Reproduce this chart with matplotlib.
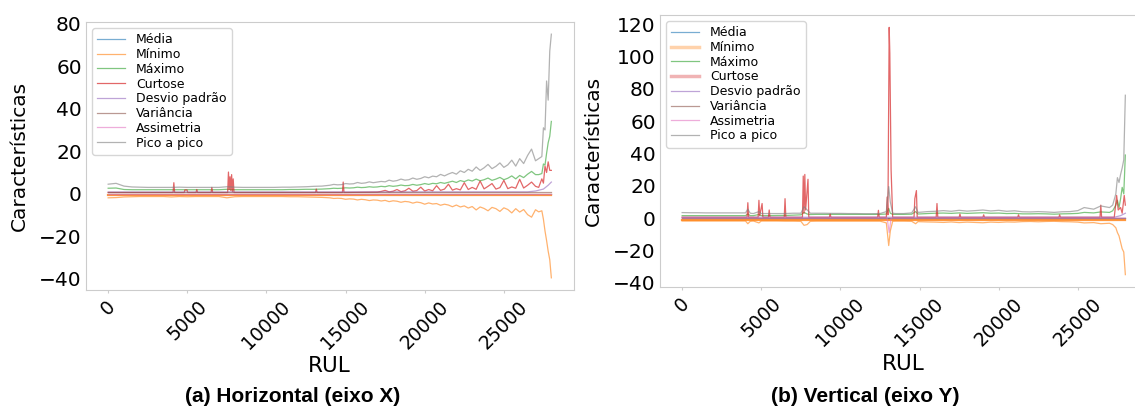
import matplotlib
matplotlib.use('Agg')
import matplotlib.pyplot as plt

# legend labels (same order as the colour cycle C0..C7)
labels = ['Média', 'Mínimo', 'Máximo', 'Curtose', 'Desvio padrão',
          'Variância', 'Assimetria', 'Pico a pico']

# ---------------- (a) Horizontal (eixo X) ----------------
rul_h = [0, 500, 1000, 1500, 2000, 2500, 3000, 3500, 4000, 4500,
         5000, 5500, 6000, 6500, 7000, 7500, 8000, 8500, 9000, 9500,
         10000, 10500, 11000, 11500, 12000, 12500, 13000, 13500,
         14000, 14250, 14500, 14750, 15000, 15250, 15500, 15750,
         16000, 16250, 16500, 16750, 17000, 17250, 17500, 17750,
         18000, 18250, 18500, 18750, 19000, 19250, 19500, 19750,
         20000, 20250, 20500, 20750, 21000, 21250, 21500, 21750,
         22000, 22250, 22500, 22750, 23000, 23250, 23500, 23750,
         24000, 24250, 24500, 24750, 25000, 25250, 25500, 25750,
         26000, 26250, 26500, 26750, 27000,
         27200, 27400, 27500, 27600, 27700, 27800, 27900, 28000]
pico_h = [4.5, 4.9, 3.6, 3.2, 3.1, 3.0, 3.0, 3.0, 3.0, 3.1,
          3.0, 3.0, 3.0, 3.0, 3.0, 3.3, 3.1, 3.0, 3.0, 3.0,
          3.0, 3.0, 3.1, 3.1, 3.2, 3.3, 3.5, 3.6,
          4.0, 4.4, 4.2, 4.3, 4.8, 4.6, 4.7, 5.3,
          4.9, 5.1, 5.6, 5.2, 5.5, 5.8, 5.6, 6.4,
          5.9, 6.2, 6.9, 6.4, 6.6, 7.4, 6.8, 7.2,
          8.0, 7.5, 8.3, 8.0, 9.1, 8.4, 9.3, 10.0,
          9.2, 10.8, 10.0, 11.5, 10.6, 12.6, 11.0, 12.2,
          13.8, 11.8, 12.9, 14.5, 12.4, 13.6, 15.8, 13.0,
          16.5, 14.2, 18.0, 21.0, 15.5,
          16.5, 17.5, 31.0, 30.0, 53.0, 44.0, 67.0, 75.0]
maximo_h = [2.6, 2.7, 2.0, 1.9, 1.9, 1.9, 1.9, 1.9, 1.9, 1.9,
            1.9, 1.9, 1.9, 1.9, 1.9, 2.1, 1.9, 1.9, 1.9, 1.9,
            1.9, 1.9, 1.9, 2.0, 2.0, 2.1, 2.1, 2.2,
            2.4, 2.6, 2.5, 2.6, 2.8, 2.7, 2.8, 3.1,
            2.9, 3.0, 3.3, 3.1, 3.2, 3.5, 3.3, 3.8,
            3.5, 3.7, 4.1, 3.8, 3.9, 4.4, 4.0, 4.3,
            4.8, 4.4, 4.9, 4.7, 5.3, 4.9, 5.4, 5.9,
            5.3, 6.2, 5.7, 6.5, 6.0, 6.9, 6.1, 6.6,
            7.4, 6.3, 6.9, 7.7, 6.6, 7.3, 8.4, 7.0,
            8.6, 7.6, 9.2, 10.5, 9.0,
            9.0, 9.5, 14.0, 13.5, 19.0, 24.0, 27.0, 34.0]
minimo_h = [-1.9, -1.8, -1.5, -1.4, -1.3, -1.3, -1.3, -1.3, -1.5, -1.3,
            -1.4, -1.3, -1.3, -1.3, -1.3, -1.9, -1.4, -1.3, -1.3, -1.3,
            -1.3, -1.3, -1.3, -1.4, -1.4, -1.5, -1.6, -1.7,
            -1.9, -2.2, -2.1, -2.2, -2.6, -2.4, -2.5, -2.9,
            -2.6, -2.8, -3.2, -2.9, -3.0, -3.4, -3.1, -3.7,
            -3.3, -3.5, -4.0, -3.6, -3.8, -4.4, -3.9, -4.2,
            -4.9, -4.3, -4.8, -4.6, -5.4, -4.9, -5.3, -6.1,
            -5.3, -6.2, -5.7, -6.7, -6.0, -7.6, -6.2, -6.9,
            -8.0, -6.4, -7.0, -8.3, -6.6, -7.4, -9.0, -7.0,
            -8.6, -7.4, -9.8, -11.0, -7.5,
            -8.5, -8.0, -12.0, -17.5, -22.0, -27.0, -31.0, -39.5]
rul_curt_h = [0, 4100, 4150, 4200, 4800, 4850, 4980, 5030, 5550, 5600, 5650,
              6500, 6550, 6600, 7550, 7600, 7650, 7700, 7750, 7800, 7850, 7900,
              7950, 13100, 13150, 13200, 14800, 14850, 14900,
              17000, 17250, 17500, 17750, 18000, 18250, 18500, 18750,
              19000, 19250, 19500, 19750, 20000, 20250, 20500, 20750,
              21000, 21250, 21500, 21750, 22000, 22250, 22500, 22750,
              23000, 23250, 23500, 23750, 24000, 24250, 24500, 24750,
              25000, 25250, 25500, 25750, 26000, 26250, 26500, 26750, 27000,
              27200, 27400, 27500, 27600, 27700, 27800, 27900, 28000]
curt_h = [0.6, 0.6, 5.2, 0.6, 0.6, 1.8, 1.8, 0.6, 0.6, 2.0, 0.6,
          0.6, 3.0, 0.6, 0.6, 10.2, 2.0, 8.0, 1.5, 9.0, 1.0, 7.0,
          0.6, 0.6, 2.2, 0.6, 0.6, 5.5, 0.6,
          0.8, 1.1, 1.6, 0.9, 1.2, 2.0, 1.0, 1.4,
          2.6, 1.2, 1.5, 3.1, 1.3, 2.0, 1.4, 3.8,
          1.6, 2.2, 4.5, 1.7, 2.4, 1.8, 5.2, 2.0,
          3.0, 2.1, 6.0, 2.3, 3.5, 4.8, 2.2, 2.9,
          6.3, 2.4, 3.2, 2.6, 6.8, 2.7, 4.0, 5.5, 3.5,
          3.0, 7.0, 5.0, 13.0, 10.0, 15.0, 11.0, 11.0]
rul_media_h = [0, 28000]
media_h = [0.1, 0.1]
rul_minbase_h = [0, 28000]
minbase_h = [-0.6, -0.6]
rul_desvio_h = [0, 26500, 27000, 27500, 27800, 28000]
desvio_h = [0.8, 0.9, 1.3, 2.2, 4.0, 5.5]
rul_var_h = [0, 28000]
var_h = [0.6, 0.6]
rul_assim_h = [0, 28000]
assim_h = [0.0, 0.0]

# ---------------- (b) Vertical (eixo Y) ----------------
rul_v = [0, 500, 1000, 1500, 2000, 2500, 3000, 3500, 4000, 4150,
         4300, 4500, 4850, 5000, 5500, 6000, 6500, 7000, 7500, 7700,
         7900, 8100, 8500, 9000, 9500, 10000, 10500, 11000, 11500, 12000,
         12500, 12900, 13050, 13150, 13300, 13500, 14000, 14500, 14750, 14900,
         15500, 16000, 16500, 17000, 17500, 18000, 18500, 19000, 19500, 20000,
         20500, 21000, 21500, 22000, 22500, 23000, 23500, 24000, 24500, 25000,
         25400, 26000, 26450, 27000, 27200, 27400, 27500, 27600, 27700, 27800,
         27900, 28000]
pico_v = [3.4, 3.3, 3.3, 3.2, 3.2, 3.2, 3.2, 3.2, 3.2, 5.5,
          3.0, 2.8, 4.0, 2.8, 2.8, 2.8, 2.8, 3.0, 3.0, 7.0,
          5.0, 3.0, 3.0, 3.0, 2.9, 2.9, 2.8, 2.8, 2.7, 2.7,
          2.8, 4.0, 19.5, 10.0, 3.0, 2.8, 2.8, 3.2, 7.0, 3.5,
          4.0, 4.2, 4.6, 4.2, 4.8, 4.3, 4.6, 5.0, 4.4, 4.8,
          4.2, 4.5, 3.9, 3.8, 4.0, 3.8, 3.5, 3.9, 4.0, 4.6,
          6.5, 5.5, 7.5, 6.5, 8.0, 15.0, 25.0, 22.0, 27.0, 31.0,
          36.0, 76.0]
maximo_v = [1.5, 1.5, 1.5, 1.5, 1.5, 1.5, 1.5, 1.5, 1.5, 2.5,
            1.5, 1.5, 2.2, 1.5, 1.5, 1.6, 1.6, 1.8, 2.0, 3.5,
            2.5, 2.2, 2.3, 2.3, 2.3, 2.3, 2.3, 2.3, 2.3, 2.3,
            2.3, 2.5, 6.0, 3.0, 2.3, 2.3, 2.3, 2.4, 4.0, 2.5,
            2.8, 3.0, 3.1, 2.9, 3.2, 2.9, 3.1, 3.3, 3.0, 3.1,
            2.8, 2.9, 2.6, 2.6, 2.7, 2.6, 2.4, 2.6, 2.7, 2.9,
            3.5, 3.2, 3.8, 3.5, 4.5, 8.0, 11.0, 6.5, 12.0, 19.0,
            15.0, 39.0]
minimo_v = [-1.8, -1.8, -1.8, -1.8, -1.8, -1.8, -1.8, -1.8, -1.8, -3.5,
            -2.0, -1.8, -3.0, -1.8, -1.8, -1.8, -1.9, -1.9, -2.0, -4.5,
            -4.0, -2.0, -1.9, -1.9, -1.9, -1.9, -1.9, -1.9, -1.9, -1.9,
            -1.9, -3.0, -17.0, -8.0, -2.0, -1.9, -1.9, -2.0, -3.5, -2.2,
            -2.4, -2.5, -2.7, -2.4, -2.8, -2.5, -2.7, -2.9, -2.5, -2.7,
            -2.4, -2.5, -2.2, -2.1, -2.3, -2.1, -2.0, -2.2, -2.3, -2.5,
            -3.0, -2.8, -3.5, -3.2, -4.0, -6.0, -9.0, -11.0, -15.0, -19.0,
            -21.0, -35.0]
rul_curt_v = [0, 4100, 4150, 4200, 4800, 4850, 4900, 5050, 5100, 5450, 5500,
              5550, 6450, 6500, 6550, 7600, 7650, 7700, 7750, 7800, 7950, 8000,
              9300, 9350, 9400, 12350, 12400, 12450, 12900, 12950, 13000,
              13080, 13120, 13200, 13300, 14650, 14700, 14800, 14850, 16050,
              16100, 16150, 17500, 17550, 17600, 19000, 19050, 19100, 21200,
              21250, 21300, 23800, 23850, 23900, 26400, 26450, 26500, 27300,
              27450, 27550, 27700, 27800, 27930, 28000]
curt_v = [0.5, 0.5, 9.5, 0.5, 0.5, 11.0, 1.5, 9.0, 0.5, 0.5, 5.0,
          0.5, 0.5, 12.0, 0.5, 0.5, 26.0, 3.0, 27.0, 5.0, 24.0, 0.5,
          0.5, 2.5, 0.5, 0.5, 4.8, 0.5, 0.5, 13.0, 2.0,
          118.0, 102.0, 30.0, 0.5, 0.5, 12.0, 17.0, 0.5, 0.5,
          9.0, 0.5, 0.5, 2.5, 0.5, 0.5, 2.0, 0.5, 0.5,
          2.0, 0.5, 0.5, 2.0, 0.5, 0.5, 8.0, 0.5, 0.5,
          14.0, 5.0, 6.5, 3.0, 14.0, 8.0]
rul_media_v = [0, 28000]
media_v = [0.0, 0.0]
rul_minbase_v = [0, 28000]
minbase_v = [-1.1, -1.1]
rul_desvio_v = [0, 27300, 27700, 28000]
desvio_v = [0.5, 0.5, 1.5, 3.0]
rul_var_v = [0, 28000]
var_v = [0.3, 0.3]
rul_assim_v = [0, 12950, 13080, 13200, 28000]
assim_v = [0.0, 0.0, -9.0, 0.0, 0.0]

W, H = 1135, 407
fig = plt.figure(figsize=(W / 100, H / 100), dpi=100)


def add_axes(left, top, width, bottom):
    return fig.add_axes([left / W, 1 - bottom / H, width / W, (bottom - top) / H])


def draw_panel(ax, media, minimo, minbase, maximo, curt, desvio, var, assim, pico):
    lw, al = 0.9, 0.6
    ax.plot(*media, color='C0', lw=lw, alpha=al, label=labels[0])
    ax.plot(*minimo, color='C1', lw=lw, alpha=al, label=labels[1])
    ax.plot(*minbase, color='C1', lw=1.6, alpha=0.8)
    ax.plot(*maximo, color='C2', lw=lw, alpha=al, label=labels[2])
    ax.plot(*curt, color='C3', lw=lw, alpha=0.7, label=labels[3])
    ax.plot(*desvio, color='C4', lw=lw, alpha=al, label=labels[4])
    ax.plot(*var, color='C5', lw=lw, alpha=al, label=labels[5])
    ax.plot(*assim, color='C6', lw=lw, alpha=al, label=labels[6])
    ax.plot(*pico, color='C7', lw=lw, alpha=al, label=labels[7])

    ax.set_xticks([0, 5000, 10000, 15000, 20000, 25000])
    for s in ax.spines.values():
        s.set_color('#cccccc')
    ax.tick_params(axis='x', labelsize=13.5, rotation=45, length=2.5,
                   color='#cccccc', pad=2.5)
    ax.tick_params(axis='y', labelsize=14.5, length=0, pad=3)
    ax.set_xlabel('RUL', fontsize=15.5)
    ax.set_ylabel('Características', fontsize=14.5)
    ax.xaxis.set_label_coords(0.5, -0.245)
    ax.yaxis.set_label_coords(-0.118, 0.5)
    leg = ax.legend(loc='upper left', fontsize=9, labelspacing=0.14,
                    handlelength=2.2, handletextpad=0.9, borderaxespad=0.5)
    return leg


ax1 = add_axes(86, 22, 487.5, 290)
draw_panel(ax1, (rul_media_h, media_h), (rul_h, minimo_h), (rul_minbase_h, minbase_h),
           (rul_h, maximo_h), (rul_curt_h, curt_h), (rul_desvio_h, desvio_h),
           (rul_var_h, var_h), (rul_assim_h, assim_h), (rul_h, pico_h))
ax1.set_yticks([-40, -20, 0, 20, 40, 60, 80])

ax2 = add_axes(660, 15, 487.5, 287)
leg2 = draw_panel(ax2, (rul_media_v, media_v), (rul_v, minimo_v), (rul_minbase_v, minbase_v),
                  (rul_v, maximo_v), (rul_curt_v, curt_v), (rul_desvio_v, desvio_v),
                  (rul_var_v, var_v), (rul_assim_v, assim_v), (rul_v, pico_v))
ax2.set_yticks([-40, -20, 0, 20, 40, 60, 80, 100, 120])
# thicker handles for Mínimo and Curtose in panel (b)
for i in (1, 3):
    leg2.get_lines()[i].set_linewidth(2.5)
    leg2.get_lines()[i].set_alpha(0.35)

fig.text(292.5 / W, 1 - 396 / H, '(a) Horizontal (eixo X)', ha='center', va='center',
         fontsize=15, fontweight='bold', family='Liberation Sans')
fig.text(865 / W, 1 - 396 / H, '(b) Vertical (eixo Y)', ha='center', va='center',
         fontsize=15, fontweight='bold', family='Liberation Sans')

fig.savefig('out.png', dpi=100)
